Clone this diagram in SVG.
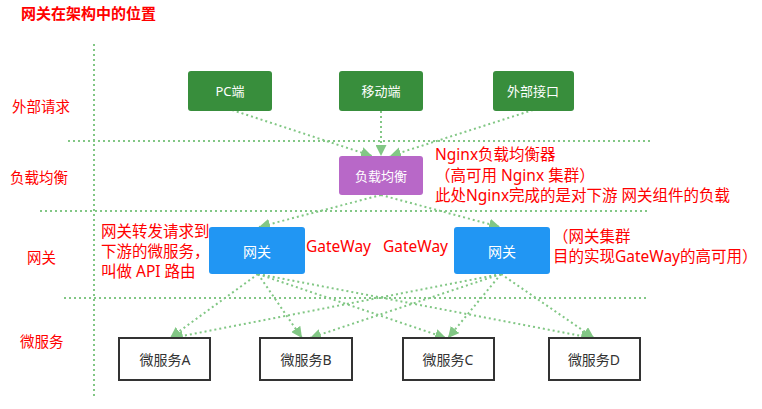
<svg xmlns="http://www.w3.org/2000/svg" width="762" height="409" viewBox="0 0 762 409">
<style>
text{font-family:"Noto Sans","Noto Sans CJK SC",sans-serif}
.red{fill:#ff0000;font-size:15.5px}
.ttl{fill:#ff0000;font-size:15px;font-weight:bold}
.lbl{fill:#ff0000;font-size:14.5px}
.sep{stroke:#82C785;stroke-width:2;stroke-dasharray:2 3;fill:none}
.con{stroke:#82C785;stroke-width:2;stroke-dasharray:2 3;fill:none}
.g{fill:#388E3C}
.p{fill:#B868C8}
.b{fill:#2196F3}
.ms{fill:#fff;stroke:#333;stroke-width:2}
.wt{fill:#fff;font-size:13px;text-anchor:middle;dominant-baseline:central}
.dk{fill:#333;font-size:14px;text-anchor:middle;dominant-baseline:central}
</style>
<defs>
<marker id="ah" viewBox="0 0 10 10" refX="10" refY="5" markerWidth="11" markerHeight="11" markerUnits="userSpaceOnUse" orient="auto">
<path d="M0,0 L10,5 L0,10 z" fill="#82C785"/>
</marker>
</defs>
<rect width="762" height="409" fill="#fff"/>
<text x="21" y="19" class="ttl">网关在架构中的位置</text>
<g id="separators">
<line class="sep" x1="94" y1="44" x2="94" y2="396"/>
<line class="sep" x1="68" y1="141" x2="650" y2="141"/>
<line class="sep" x1="40" y1="211" x2="650" y2="211"/>
<line class="sep" x1="64" y1="298" x2="647" y2="298"/>
</g>
<g id="layer-labels">
<text x="12" y="112" class="lbl">外部请求</text>
<text x="10" y="183" class="lbl">负载均衡</text>
<text x="27" y="263" class="lbl">网关</text>
<text x="20" y="347" class="lbl">微服务</text>
</g>
<g id="connectors">
<line class="con" x1="232" y1="110" x2="372" y2="156" marker-end="url(#ah)"/>
<line class="con" x1="381" y1="111" x2="381" y2="156" marker-end="url(#ah)"/>
<line class="con" x1="533" y1="110" x2="390" y2="156" marker-end="url(#ah)"/>
<line class="con" x1="381" y1="195" x2="259" y2="227" marker-end="url(#ah)"/>
<line class="con" x1="381" y1="195" x2="500" y2="227" marker-end="url(#ah)"/>
<line class="con" x1="258" y1="274" x2="170" y2="338" marker-end="url(#ah)"/>
<line class="con" x1="258" y1="274" x2="302" y2="338" marker-end="url(#ah)"/>
<line class="con" x1="258" y1="274" x2="446" y2="338" marker-end="url(#ah)"/>
<line class="con" x1="258" y1="274" x2="592" y2="338" marker-end="url(#ah)"/>
<line class="con" x1="501" y1="274" x2="172" y2="338" marker-end="url(#ah)"/>
<line class="con" x1="501" y1="274" x2="310" y2="338" marker-end="url(#ah)"/>
<line class="con" x1="501" y1="274" x2="448" y2="338" marker-end="url(#ah)"/>
<line class="con" x1="501" y1="274" x2="594" y2="338" marker-end="url(#ah)"/>
</g>
<g id="pc"><rect class="g" x="188" y="71" width="84" height="40" rx="3"/><text class="wt" x="230" y="91">PC端</text></g>
<g id="mobile"><rect class="g" x="339" y="71" width="84" height="40" rx="3"/><text class="wt" x="381" y="91">移动端</text></g>
<g id="external-api"><rect class="g" x="493" y="71" width="81" height="40" rx="3"/><text class="wt" x="533" y="91">外部接口</text></g>
<g id="lb"><rect class="p" x="339" y="156" width="84" height="39" rx="3"/><text class="wt" x="381" y="176">负载均衡</text></g>
<g id="gw1"><rect class="b" x="209" y="227" width="96" height="47" rx="3"/><text class="wt" x="257" y="251" style="font-size:14px">网关</text></g>
<g id="gw2"><rect class="b" x="454" y="227" width="96" height="47" rx="3"/><text class="wt" x="502" y="251" style="font-size:14px">网关</text></g>
<g id="svc-a"><rect class="ms" x="119" y="338" width="91" height="42"/><text class="dk" x="165" y="359">微服务A</text></g>
<g id="svc-b"><rect class="ms" x="260" y="338" width="92" height="42"/><text class="dk" x="306" y="359">微服务B</text></g>
<g id="svc-c"><rect class="ms" x="403" y="338" width="91" height="42"/><text class="dk" x="448" y="359">微服务C</text></g>
<g id="svc-d"><rect class="ms" x="549" y="338" width="91" height="42"/><text class="dk" x="594" y="359">微服务D</text></g>
<g id="annotations">
<text class="red" x="435" y="160">Nginx负载均衡器</text>
<text class="red" x="435" y="181">（高可用 Nginx 集群）</text>
<text class="red" x="435" y="201">此处Nginx完成的是对下游 网关组件的负载</text>
<text class="red" x="101" y="237">网关转发请求到</text>
<text class="red" x="101" y="257">下游的微服务，</text>
<text class="red" x="101" y="277">叫做 API 路由</text>
<text class="red" x="306" y="252">GateWay</text>
<text class="red" x="383" y="252">GateWay</text>
<text class="red" x="553" y="242">（网关集群</text>
<text class="red" x="553" y="262">目的实现GateWay的高可用）</text>
</g>
</svg>
